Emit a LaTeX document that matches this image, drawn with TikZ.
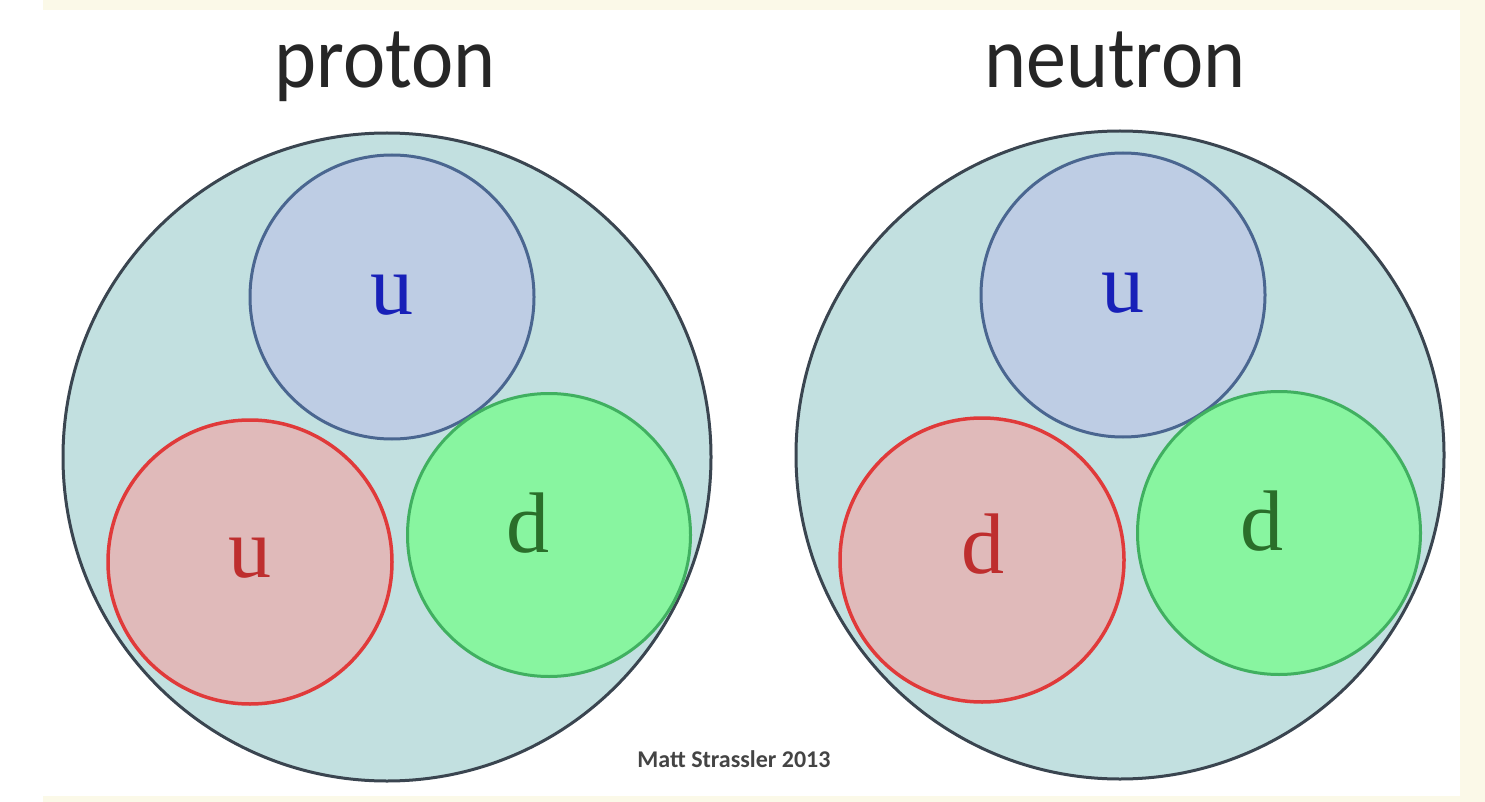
\documentclass[tikz,border=0pt]{standalone}
\usepackage{fontspec}
\setmainfont{Liberation Serif}
\newfontfamily\titlefont{Carlito}
\definecolor{cream}{HTML}{FBF9E8}
\definecolor{outerfill}{HTML}{C2E0E0}
\definecolor{outerline}{HTML}{3A4550}
\definecolor{bluefill}{HTML}{BECDE4}
\definecolor{blueline}{HTML}{4A6690}
\definecolor{redfill}{HTML}{E0BABA}
\definecolor{redline}{HTML}{E03A3A}
\definecolor{greenfill}{HTML}{88F5A0}
\definecolor{greenline}{HTML}{40B060}
\definecolor{bluetext}{HTML}{1820B8}
\definecolor{redtext}{HTML}{BE2E2E}
\definecolor{greentext}{HTML}{2A6E2A}
\definecolor{credit}{HTML}{444444}
\tikzset{
  hadron/.style={circle, draw=outerline, fill=outerfill, line width=3pt, minimum size=648pt, inner sep=0pt},
  quarkblue/.style={circle, draw=blueline, fill=bluefill, line width=3pt, minimum size=284pt, inner sep=0pt},
  quarkred/.style={circle, draw=redline, fill=redfill, line width=3.5pt, minimum size=284pt, inner sep=0pt},
  quarkgreen/.style={circle, draw=greenline, fill=greenfill, line width=3pt, minimum size=283pt, inner sep=0pt},
  qlabel/.style={anchor=base, inner sep=0pt, font=\fontsize{86}{90}\selectfont},
  title/.style={anchor=base, inner sep=0pt, font=\titlefont\fontsize{80}{90}\selectfont, text=black!85, yscale=1.1},
}
\begin{document}
\begin{tikzpicture}[x=1pt,y=-1pt]
\useasboundingbox (0,0) rectangle (1485,802);
\fill[cream] (0,0) rectangle (1485,802);
\fill[white] (0,10) rectangle (1460,796);
\fill[white] (0,0) rectangle (43,802);

% proton
\node[hadron] (P) at (387,457) {};
\node[quarkblue] (Pu1) at (392,297) {};
\node[quarkred] (Pu2) at (250,562) {};
\node[quarkgreen] (Pd) at (549,535) {};
\node[qlabel, text=bluetext] (Pu1l) at (392,314) {u};
\node[qlabel, text=redtext] (Pu2l) at (250,577) {u};
\node[qlabel, text=greentext] (Pdl) at (528,552) {d};
\node[title] (Pt) at (385,88) {proton};

% neutron
\node[hadron] (N) at (1120,455) {};
\node[quarkblue] (Nu) at (1123,295) {};
\node[quarkred] (Nd1) at (982,560) {};
\node[quarkgreen] (Nd2) at (1279,533) {};
\node[qlabel, text=bluetext] (Nul) at (1123,312) {u};
\node[qlabel, text=redtext] (Nd1l) at (983,573) {d};
\node[qlabel, text=greentext] (Nd2l) at (1262,550) {d};
\node[title] (Nt) at (1115,88) {neutron};

\node[anchor=base, inner sep=0pt, text=credit, font=\titlefont\bfseries\fontsize{24}{26}\selectfont] (cr) at (734,767) {Matt Strassler 2013};
\end{tikzpicture}
\end{document}
